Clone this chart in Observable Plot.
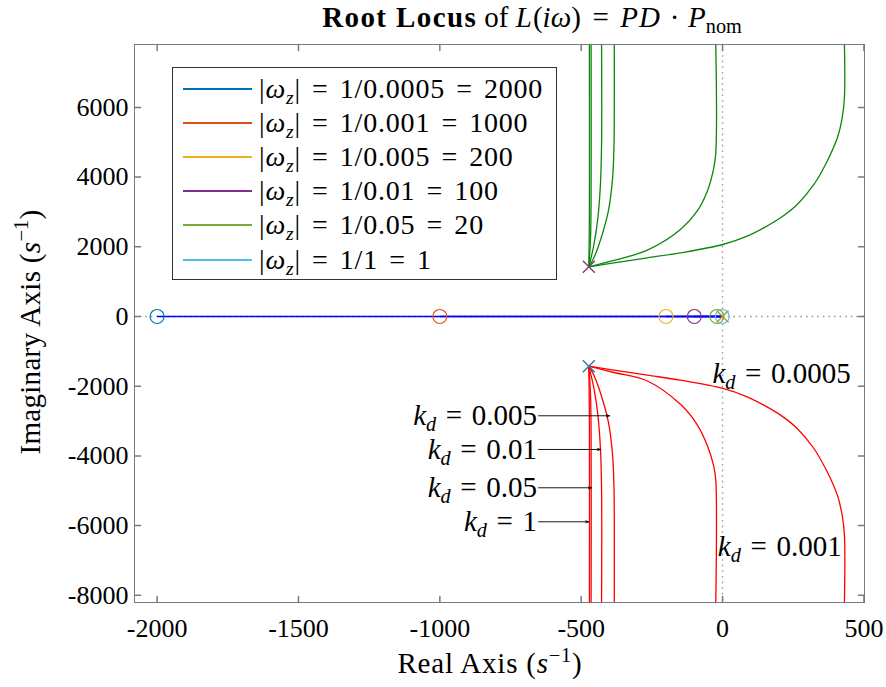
<!DOCTYPE html>
<html><head><meta charset="utf-8">
<script src="https://cdn.jsdelivr.net/npm/d3@7"></script>
<script src="https://cdn.jsdelivr.net/npm/@observablehq/plot@0.6"></script>
<style>
body{margin:0;background:#fff;}
#wrap{position:relative;width:886px;height:687px;font-family:"Liberation Serif",serif;color:#000;overflow:hidden;}
#wrap svg, #wrap svg text{font-family:"Liberation Serif",serif !important;}
.abs{position:absolute;white-space:nowrap;line-height:1;}
sub{font-size:70%;vertical-align:-0.3em;line-height:0;}
sup{font-size:70%;vertical-align:0.55em;line-height:0;}
.eq{padding:0 0.4em;}
.op{padding:0 0.3em;}
</style></head><body><div id="wrap"></div>
<script>
// ---------- data ----------
const xTicks = [-2000, -1500, -1000, -500, 0, 500];
const yTicks = [-8000, -6000, -4000, -2000, 0, 2000, 4000, 6000];
const xDomain = [-2080, 502];
const yDomain = [-8207, 7805];

const kdValues = ["0.0005", "0.001", "0.005", "0.01", "0.05", "1"];
const zeroLocations = [-2000, -1000, -200, -100, -20, -1];
const legendLabels = ["1/0.0005 = 2000", "1/0.001 = 1000", "1/0.005 = 200", "1/0.01 = 100", "1/0.05 = 20", "1/1 = 1"];

const poleUpper = [-473, 1425];
const poleLower = [-473, -1425];
const poleOrigin = [0, 0];

// upper branches (green)
const upperKd0005 = [[-473,1425],[-384,1540],[-266,1684],[-149,1827],[1,2066],[87,2305],[146,2544],[205,2831],[264,3214],[323,3788],[370,4457],[406,5127],[423,5701],[431,6275],[431,7805]];
const upperKd001  = [[-473,1425],[-384,1607],[-266,1903],[-149,2496],[-90,3022],[-54,3596],[-31,4266],[-24,4696],[-24,7805]];
const upperKd005  = [[-473,1425],[-455,1684],[-437,2066],[-404,3022],[-389,3979],[-384,4935],[-383,5892],[-383,7805]];
const upperKd01   = [[-473,1425],[-455,2066],[-441,2831],[-432,3788],[-428,4935],[-428,7805]];
const upperKd05   = [[-473,1425],[-467,2257],[-465,3501],[-465,7805]];
const upperKd1    = [[-473,1425],[-471,3000],[-471,7805]];

// lower branches (red)
const lowerKd0005 = [[-473,-1425],[-384,-1540],[-266,-1684],[-149,-1827],[1,-2066],[87,-2305],[146,-2544],[205,-2831],[264,-3214],[323,-3788],[370,-4457],[406,-5127],[423,-5701],[431,-6275],[431,-8207]];
const lowerKd001  = [[-473,-1425],[-384,-1607],[-266,-1850],[-149,-2520],[-90,-3100],[-54,-3700],[-31,-4300],[-24,-4700],[-24,-8207]];
const lowerKd005  = [[-473,-1425],[-455,-1684],[-437,-2066],[-404,-3022],[-389,-3979],[-384,-4935],[-383,-5892],[-383,-8207]];
const lowerKd01   = [[-473,-1425],[-455,-2066],[-441,-2831],[-432,-3788],[-428,-4935],[-428,-8207]];
const lowerKd05   = [[-473,-1425],[-467,-2257],[-465,-3501],[-465,-8207]];
const lowerKd1    = [[-473,-1425],[-471,-3000],[-471,-8207]];

// annotations
const leftNoteLabels = ["0.005", "0.01", "0.05", "1"];
const leftNoteY = [-2849, -3816, -4915, -5891];
const leftNoteArrowX1 = [-651, -651, -651, -651];
const leftNoteArrowX2 = [-400, -432, -464, -474];
const leftNoteTextX = [-656, -656, -656, -656];
const rightNoteLabels = ["0.0005", "0.001"];
const rightNoteX = [-36, -17];
const rightNoteY = [-1644, -6600];

// ---------- styles ----------
const seriesColors = ["#0072BD", "#D95319", "#EDB120", "#7E2F8E", "#77AC30", "#4DBEEE"];
const green = "#0b870b", red = "#ff0000", blue = "#0000ff";
const axisGray = "#7a7a7a";

const upperBranches = [upperKd0005, upperKd001, upperKd005, upperKd01, upperKd05, upperKd1];
const lowerBranches = [lowerKd0005, lowerKd001, lowerKd005, lowerKd01, lowerKd05, lowerKd1];
const toRows = (branches) => branches.flatMap((b, i) => b.map(([x, y]) => ({x, y, id: i})));
const upperRows = toRows(upperBranches);
const lowerRows = toRows(lowerBranches);

const leftNotes = leftNoteLabels.map((l, i) => ({label: "k_d = " + l, y: leftNoteY[i], x1: leftNoteArrowX1[i], x2: leftNoteArrowX2[i], tx: leftNoteTextX[i]}));
const rightNotes = rightNoteLabels.map((l, i) => ({label: "k_d = " + l, x: rightNoteX[i], y: rightNoteY[i]}));

const tickShape = {draw(ctx, l) { ctx.moveTo(0, 0); ctx.lineTo(0, -l); }};
const tickLen = 6;

const plot = Plot.plot({
  width: 886, height: 687,
  marginLeft: 134, marginRight: 22, marginTop: 44, marginBottom: 85,
  style: {fontFamily: "'Liberation Serif', serif", fontSize: "26px", color: "#000", background: "transparent"},
  x: {domain: xDomain, ticks: xTicks, tickSize: 0, tickPadding: 16, tickFormat: d => String(d), label: null},
  y: {domain: yDomain, ticks: yTicks, tickSize: 0, tickPadding: 6, tickFormat: d => String(d), label: null},
  color: {type: "identity"},
  marks: [
    Plot.ruleX([0], {stroke: "#999", strokeWidth: 1.3, strokeDasharray: "1.6,4"}),
    Plot.ruleY([0], {stroke: "#999", strokeWidth: 1.3, strokeDasharray: "1.6,4"}),
    Plot.link(zeroLocations, {x1: d => d, x2: 0, y1: 0, y2: 0, stroke: blue, strokeWidth: 1.6}),
    Plot.line(upperRows, {x: "x", y: "y", z: "id", stroke: green, strokeWidth: 1.3, curve: "catmull-rom"}),
    Plot.line(lowerRows, {x: "x", y: "y", z: "id", stroke: red, strokeWidth: 1.3, curve: "catmull-rom"}),
    Plot.dot(zeroLocations, {x: d => d, y: 0, r: 7, stroke: (d, i) => seriesColors[i], fill: "none", strokeWidth: 1.2}),
    Plot.dot([poleUpper], {x: d => d[0], y: d => d[1], symbol: "times", r: 5.5, stroke: "#7a3f6e", strokeWidth: 1.4}),
    Plot.dot([poleLower], {x: d => d[0], y: d => d[1], symbol: "times", r: 5.5, stroke: "#2b7c9c", strokeWidth: 1.4}),
    Plot.dot([poleOrigin], {x: d => d[0], y: d => d[1], symbol: "times", r: 5.5, stroke: "#b49b2a", strokeWidth: 1.4}),
    Plot.arrow(leftNotes, {x1: "x1", x2: "x2", y1: "y", y2: "y", stroke: "#000", strokeWidth: 0.9, headLength: 5, headAngle: 40}),
    Plot.text(leftNotes, {x: "tx", y: "y", text: "label", textAnchor: "end", lineAnchor: "middle", fontSize: 29, fill: "#000"}),
    Plot.text(rightNotes, {x: "x", y: "y", text: "label", textAnchor: "start", lineAnchor: "middle", fontSize: 29, fill: "#000"}),
    Plot.frame({stroke: axisGray, strokeWidth: 1}),
    Plot.vector(xTicks, {x: d => d, frameAnchor: "bottom", anchor: "start", length: tickLen, rotate: 0, shape: tickShape, stroke: axisGray}),
    Plot.vector(xTicks, {x: d => d, frameAnchor: "top", anchor: "start", length: tickLen, rotate: 180, shape: tickShape, stroke: axisGray}),
    Plot.vector(yTicks, {y: d => d, frameAnchor: "left", anchor: "start", length: tickLen, rotate: 90, shape: tickShape, stroke: axisGray}),
    Plot.vector(yTicks, {y: d => d, frameAnchor: "right", anchor: "start", length: tickLen, rotate: -90, shape: tickShape, stroke: axisGray})
  ]
});

// math-style labels k_d
const NS = "http://www.w3.org/2000/svg";
d3.select(plot).selectAll("text").each(function() {
  const s = this.textContent;
  if (!s.startsWith("k_d")) return;
  const rest = s.slice(3).replace(" = ", "");
  this.textContent = "";
  const a = document.createElementNS(NS, "tspan"); a.setAttribute("font-style", "italic"); a.textContent = "k";
  const b = document.createElementNS(NS, "tspan"); b.setAttribute("font-style", "italic"); b.setAttribute("font-size", "0.7em"); b.setAttribute("dy", "0.3em"); b.textContent = "d";
  const c = document.createElementNS(NS, "tspan"); c.setAttribute("dy", "-0.21em"); c.textContent = "\u2004=\u2004" + rest;
  this.append(a, b, c);
});

const wrap = document.getElementById("wrap");
wrap.appendChild(plot);
plot.style.position = "absolute"; plot.style.left = "0"; plot.style.top = "0";

// title
const title = document.createElement("div");
title.className = "abs";
title.style.cssText = "left:532px;top:3px;transform:translateX(-50%);font-size:29px;";
title.innerHTML = '<b style="letter-spacing:1.4px">Root Locus</b> of <i style="letter-spacing:1px">L</i>(<i>iω</i>)<span class="eq">=</span><i style="letter-spacing:1px">PD</i><span class="op">·</span><i>P</i><sub>nom</sub>';
wrap.appendChild(title);

// axis labels
const xl = document.createElement("div");
xl.className = "abs";
xl.style.cssText = "left:490px;top:649px;transform:translateX(-50%);font-size:29px;letter-spacing:0.8px;";
xl.innerHTML = 'Real Axis (<i>s</i><sup>−1</sup>)';
wrap.appendChild(xl);
const yl = document.createElement("div");
yl.className = "abs";
yl.style.cssText = "left:30px;top:332px;transform:translate(-50%,-50%) rotate(-90deg);font-size:29px;letter-spacing:0.3px;";
yl.innerHTML = 'Imaginary Axis (<i>s</i><sup>−1</sup>)';
wrap.appendChild(yl);

// legend
const leg = document.createElement("div");
leg.className = "abs";
leg.style.cssText = "left:172px;top:67px;width:385px;height:213px;border:1px solid #333;background:#fff;box-sizing:border-box;";
wrap.appendChild(leg);
legendLabels.forEach((lab, i) => {
  const cy = Math.round(21 + i * 34.1);
  const ln = document.createElement("div");
  ln.className = "abs";
  ln.style.cssText = `left:10px;top:${cy - 1}px;width:69px;height:2px;background-color:${seriesColors[i]};`;
  leg.appendChild(ln);
  const tx = document.createElement("div");
  tx.className = "abs";
  tx.style.cssText = `left:86px;top:${cy - 14}px;font-size:28px;letter-spacing:0.8px;`;
  const parts = lab.split(" = ");
  tx.innerHTML = `|<i>ω</i><sub><i>z</i></sub>|<span class="eq">=</span>${parts[0]}<span class="eq">=</span>${parts[1]}`;
  leg.appendChild(tx);
});
</script></body></html>
